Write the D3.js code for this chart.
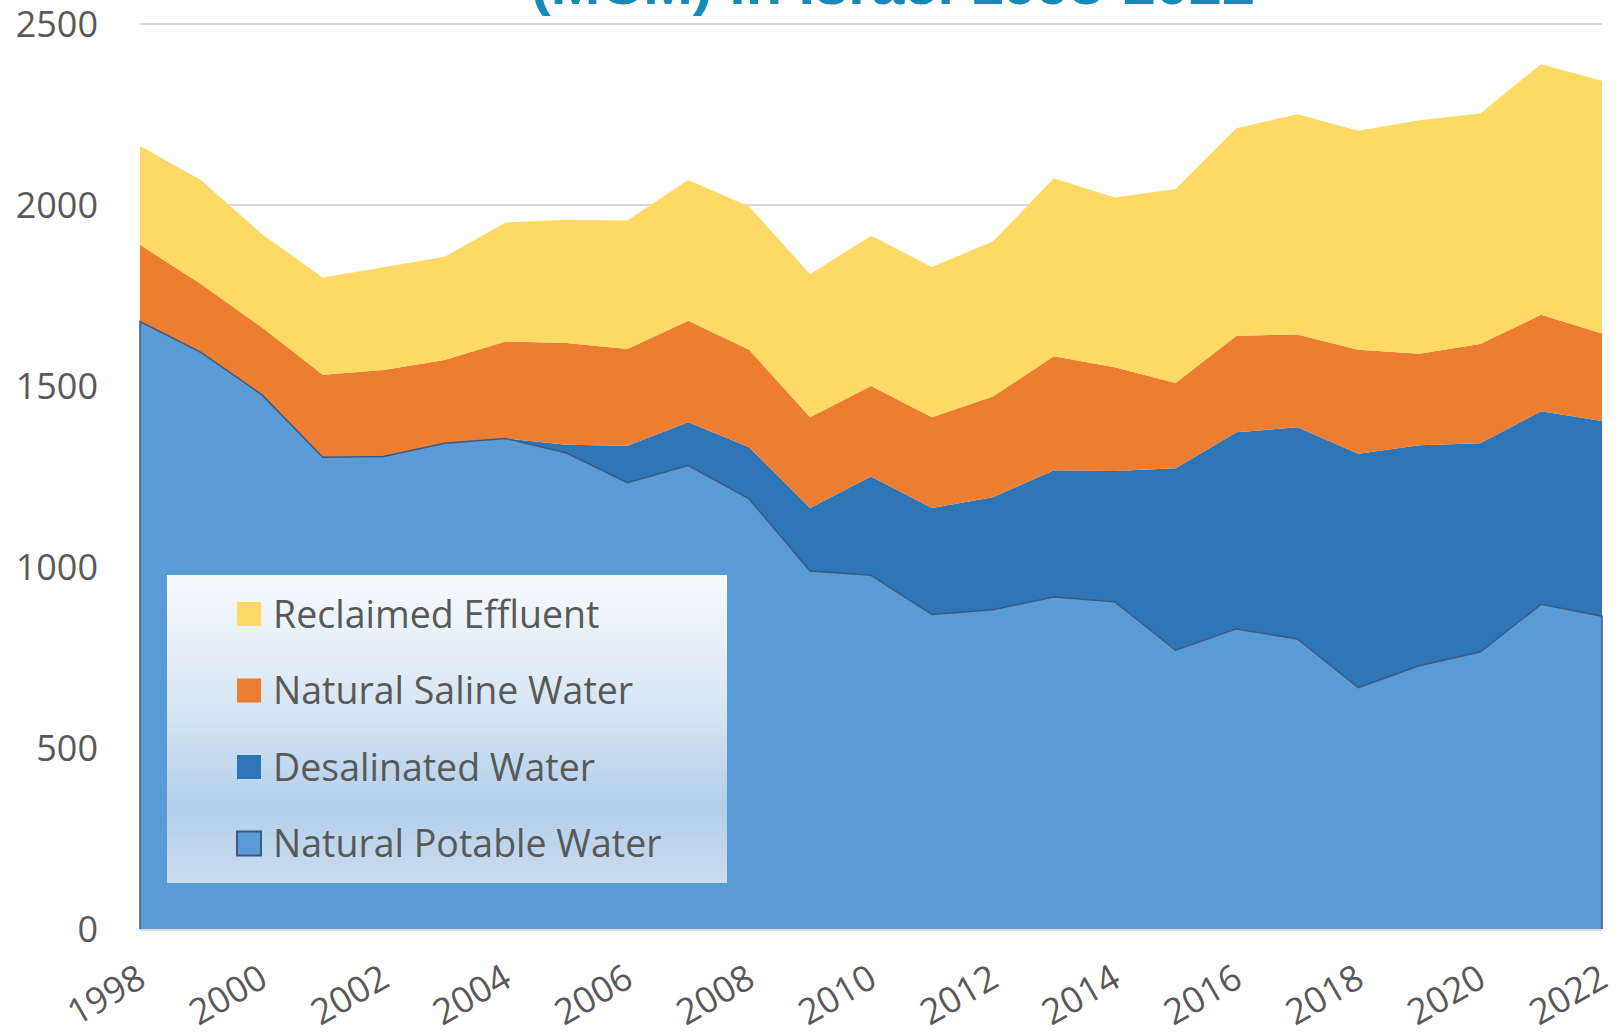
<!DOCTYPE html>
<html>
<head>
<meta charset="utf-8">
<script src="https://cdn.jsdelivr.net/npm/d3@7"></script>
<style>
  body { margin: 0; background: #ffffff; overflow: hidden; }
  text { font-family: "Open Sans", "Liberation Sans", sans-serif; }
</style>
</head>
<body>
<div id="chart"></div>
<script>
// water supply by source, MCM
var years = [1998, 1999, 2000, 2001, 2002, 2003, 2004, 2005, 2006, 2007, 2008, 2009, 2010,
             2011, 2012, 2013, 2014, 2015, 2016, 2017, 2018, 2019, 2020, 2021, 2022]
var potable = [1678, 1593, 1476, 1303, 1305, 1342, 1355, 1315, 1233, 1280, 1188, 989, 977,
               869, 882, 917, 904, 770, 829, 801, 667, 727, 765, 897, 864]
var desalinated = [0, 0, 0, 0, 0, 0, 0, 23, 102, 120, 143, 174, 273,
                   294, 311, 350, 361, 503, 543, 585, 646, 609, 577, 533, 539]
var saline = [212, 189, 186, 228, 239, 230, 268, 281, 267, 280, 269, 251, 250,
              251, 278, 315, 287, 235, 267, 256, 287, 253, 274, 267, 242]
var effluent = [273, 287, 258, 269, 284, 285, 329, 340, 355, 389, 396, 395, 415,
                415, 428, 492, 469, 536, 573, 609, 605, 645, 637, 692, 698]

var seriesKeys = ["potable", "desal", "saline", "effluent"]
var seriesColors = {potable: "#5b9bd5", desal: "#2e75b6", saline: "#ed7d31", effluent: "#ffd966"}
var legendNames = ["Reclaimed Effluent", "Natural Saline Water", "Desalinated Water", "Natural Potable Water"]
var legendKeys = ["effluent", "saline", "desal", "potable"]
var yTicks = [0, 500, 1000, 1500, 2000, 2500]
var xTicks = [1998, 2000, 2002, 2004, 2006, 2008, 2010, 2012, 2014, 2016, 2018, 2020, 2022]

var width = 1623
var height = 1034
var margin = {left: 140, right: 21, top: 24, bottom: 105}

var rows = years.map(function(yr, i) {
    return {year: yr, potable: potable[i], desal: desalinated[i], saline: saline[i], effluent: effluent[i]}
})

var svg = d3.select("#chart").append("svg")
    .attr("width", width)
    .attr("height", height)

var x = d3.scaleLinear()
    .domain([1998, 2022])
    .range([margin.left, width - margin.right])
var y = d3.scaleLinear()
    .domain([0, 2500])
    .range([height - margin.bottom, margin.top])

// title, mostly cut off at the top edge
svg.append("text")
    .attr("x", 893)
    .attr("y", 4)
    .attr("text-anchor", "middle")
    .attr("font-size", 56)
    .attr("font-weight", "bold")
    .attr("textLength", 724)
    .attr("lengthAdjust", "spacingAndGlyphs")
    .attr("fill", "#168ab8")
    .style("font-family", "'Liberation Sans', sans-serif")
    .text("(MCM) in Israel 1998-2022")

// gridlines
svg.append("g").selectAll("line")
    .data(yTicks)
    .join("line")
    .attr("x1", x(1998))
    .attr("x2", x(2022))
    .attr("y1", function(d) { return y(d) })
    .attr("y2", function(d) { return y(d) })
    .attr("stroke", "#d9d9d9")
    .attr("stroke-width", 2)

var stack = d3.stack().keys(seriesKeys)
var layers = stack(rows)

var area = d3.area()
    .x(function(d) { return x(d.data.year) })
    .y0(function(d) { return y(d[0]) })
    .y1(function(d) { return y(d[1]) })

svg.append("g").selectAll("path")
    .data(layers)
    .join("path")
    .attr("d", area)
    .attr("fill", function(d) { return seriesColors[d.key] })

// dark outline round the potable layer (left edge, top, right edge)
var outlinePts = [{year: 1998, v: 0}]
    .concat(rows.map(function(r) { return {year: r.year, v: r.potable} }))
    .concat([{year: 2022, v: 0}])
var outline = d3.line()
    .x(function(d) { return x(d.year) })
    .y(function(d) { return y(d.v) })
svg.append("path")
    .attr("d", outline(outlinePts))
    .attr("fill", "none")
    .attr("stroke", "#3a5a86")
    .attr("stroke-width", 1.5)

// bottom axis line
svg.append("line")
    .attr("x1", x(1998))
    .attr("x2", x(2022))
    .attr("y1", y(0) + 1)
    .attr("y2", y(0) + 1)
    .attr("stroke", "#d9d9d9")
    .attr("stroke-width", 2)

// y labels
svg.append("g").selectAll("text")
    .data(yTicks)
    .join("text")
    .attr("x", 98)
    .attr("y", function(d) { return y(d) })
    .attr("dy", "0.36em")
    .attr("text-anchor", "end")
    .attr("font-size", 36)
    .attr("fill", "#595959")
    .text(function(d) { return d })

// x labels, slanted
svg.append("g").selectAll("text")
    .data(xTicks)
    .join("text")
    .attr("transform", function(d) { return "translate(" + (x(d) + 8) + "," + 985 + ") rotate(-30)" })
    .attr("text-anchor", "end")
    .attr("font-size", 36)
    .attr("fill", "#595959")
    .text(function(d) { return d })

// legend
var defs = svg.append("defs")
var grad = defs.append("linearGradient")
    .attr("id", "legendFill")
    .attr("x1", 0).attr("y1", 0).attr("x2", 0).attr("y2", 1)
grad.append("stop").attr("offset", "0%").attr("stop-color", "#f7fafd")
grad.append("stop").attr("offset", "40%").attr("stop-color", "#d9e7f4")
grad.append("stop").attr("offset", "75%").attr("stop-color", "#b3cfea")
grad.append("stop").attr("offset", "100%").attr("stop-color", "#c9dcf0")

var legend = svg.append("g").attr("transform", "translate(167,575)")
legend.append("rect")
    .attr("width", 560)
    .attr("height", 308)
    .attr("fill", "url(#legendFill)")

var item = legend.selectAll("g")
    .data(legendKeys)
    .join("g")
    .attr("transform", function(d, i) { return "translate(70," + (39 + i * 76.5) + ")" })
item.append("rect")
    .attr("x", 0)
    .attr("y", -12)
    .attr("width", 24)
    .attr("height", 24)
    .attr("fill", function(d) { return seriesColors[d] })
    .attr("stroke", function(d) { return d == "potable" ? "#3a5a86" : "none" })
    .attr("stroke-width", 2)
item.append("text")
    .attr("x", 36)
    .attr("y", 0)
    .attr("dy", "0.36em")
    .attr("font-size", 37.5)
    .attr("fill", "#595959")
    .text(function(d, i) { return legendNames[i] })
</script>
</body>
</html>
